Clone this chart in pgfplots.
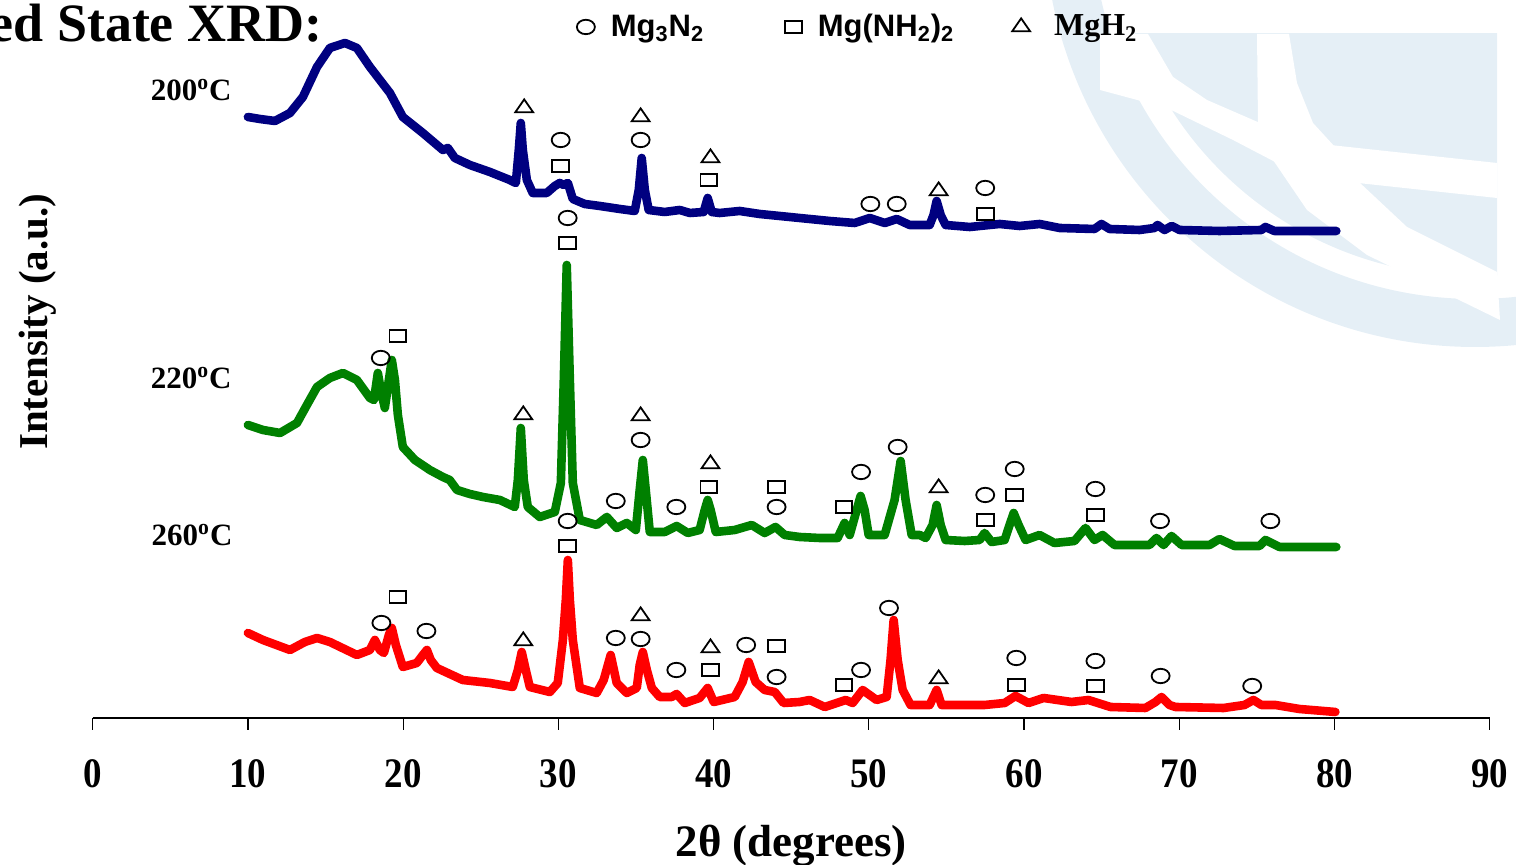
\documentclass[border=0pt]{standalone}
\usepackage{fontspec}
\setmainfont{Liberation Serif}
\newfontfamily\arialf{Liberation Sans}
\usepackage{pgfplots}
\pgfplotsset{compat=1.18}
\definecolor{navyc}{RGB}{0,0,128}
\definecolor{greenc}{RGB}{0,128,0}
\definecolor{redc}{RGB}{255,0,0}
\definecolor{wm}{RGB}{229,239,246}
\pgfplotsset{
  circ/.style={only marks, black, mark=o, mark size=3.6pt, mark options={line width=0.9pt, xscale=1.25}},
  sq/.style={only marks, black, mark=square, mark size=3.1pt, mark options={line width=0.9pt, xscale=1.35}},
  tri/.style={only marks, black, mark=triangle, mark size=4.3pt, mark options={line width=0.9pt, xscale=1.2}},
  xrd/.style={line width=4.3pt, line join=round, line cap=round},
}
\begin{document}
\begin{tikzpicture}
\path[use as bounding box] (0,0) rectangle (758pt,432.5pt);
% faint logo watermark, in pixel units of the picture (origin top left)
\begin{scope}[shift={(0,432.5pt)}, x=0.5pt, y=-0.5pt]
  \clip (0,0) rectangle (1516,865);
  \fill[wm, even odd rule] (1475,-84) circle[radius=431] (1475,-84) circle[radius=383];
  \begin{scope}
    \clip (1000,34) rectangle (1497,400);
    \fill[wm] (1475,-84) circle[radius=360];
  \end{scope}
  \fill[white] (1100,34) -- (1148,34) -- (1173,77) -- (1207,100) -- (1260,123) -- (1277,163) -- (1233,140) -- (1167,108) -- (1100,90) -- cycle;
  \fill[white] (1257,34) -- (1289,34) -- (1297,83) -- (1313,123) -- (1335,147) -- (1360,183) -- (1407,227) -- (1497,272) -- (1500,320) -- (1367,255) -- (1307,210) -- (1273,160) -- (1258,123) -- cycle;
  \fill[white] (1330,145) -- (1497,163) -- (1497,198) -- (1358,183) -- cycle;
\end{scope}
\begin{axis}[
  at={(46.35pt,73.5pt)}, anchor=south west,
  scale only axis, width=698.5pt, height=359pt,
  xmin=0, xmax=90, ymin=0, ymax=718,
  clip=false,
  axis x line=bottom, axis y line=none,
  x axis line style={-, line width=1pt},
  xtick={0,10,...,90},
  xtick align=outside,
  major tick length=6pt,
  xtick style={line width=0.6pt, black},
  /pgf/number format/assume math mode=true,
  xticklabel style={font=\bfseries\fontsize{21}{21}\selectfont, xscale=0.88, yshift=-11.5pt},
  xlabel={\bfseries 2θ (degrees)},
  xlabel style={font=\fontsize{22.5}{22.5}\selectfont, at={(axis description cs:0.5,-0.1936)}, anchor=base},
  legend image code/.code={\draw[#1] plot coordinates {(0pt,0pt)};},
  legend style={draw=none, fill=none, inner sep=0pt, at={(0.3463,0.9624)}, anchor=west,
    nodes={inner sep=0pt, anchor=west},
    /tikz/every odd column/.append style={column sep=8pt},
    /tikz/every even column/.append style={column sep=29pt}},
  legend columns=3,
]
\addlegendimage{circ}
\addlegendentry{\arialf\bfseries\fontsize{15.5}{15.5}\selectfont Mg\textsubscript{3}N\textsubscript{2}\rule{11.5pt}{0pt}}
\addlegendimage{sq}
\addlegendentry{\arialf\bfseries\fontsize{15.5}{15.5}\selectfont Mg(NH\textsubscript{2})\textsubscript{2}}
\addlegendimage{tri}
\addlegendentry{\hspace{4pt}\bfseries\fontsize{16}{16}\selectfont MgH\textsubscript{2}}

% 200 C
\addplot[xrd, navyc, forget plot] coordinates {
(10.0,601) (10.77,599) (11.74,597) (12.71,605) (13.54,621) (14.45,651) (15.28,670) (16.25,675)
(17.02,670) (17.86,651) (19.15,625) (19.98,601) (21.27,585) (22.56,568) (22.88,570) (23.33,560)
(24.30,553) (25.59,546) (26.87,538) (27.26,535) (27.45,568) (27.58,595) (27.71,568) (27.97,538)
(28.35,525) (29.25,525) (29.77,532) (30.09,535) (30.35,533) (30.61,535) (30.93,519) (31.70,514)
(32.67,512) (33.96,509) (34.92,507) (35.18,528) (35.37,560) (35.57,528) (35.82,508) (36.85,506)
(37.82,508) (38.47,505) (39.36,506) (39.62,520) (39.88,506) (40.39,505) (41.68,507) (42.97,504)
(44.26,502) (45.54,500) (47.48,497) (49.09,495) (50.06,500) (51.03,495) (51.80,499) (52.63,493)
(53.92,493) (54.17,503) (54.37,517) (54.63,503) (54.95,493) (56.50,491) (58.43,494) (59.72,492)
(61.01,494) (62.29,490) (64.54,489) (64.99,494) (65.51,489) (67.44,488) (68.41,490) (68.60,493)
(69.05,488) (69.51,492) (70.02,488) (72.59,487) (75.29,488) (75.55,491) (76.13,487) (77.74,487)
(80.12,487)};
% 220 C
\addplot[xrd, greenc, forget plot] coordinates {
(10.0,293) (10.97,288) (12.07,285) (13.16,295) (13.8,313) (14.45,331) (15.28,340) (16.12,345)
(17.02,338) (17.86,320) (18.12,318) (18.37,345) (18.56,328) (18.82,310) (19.08,338) (19.27,358)
(19.47,338) (19.66,303) (19.98,271) (20.76,258) (21.72,248) (22.56,241) (23.0,238) (23.47,228)
(24.30,224) (25.14,221) (26.23,218) (27.19,211) (27.39,238) (27.58,290) (27.77,238) (28.03,211)
(28.80,201) (29.77,206) (30.16,235) (30.35,338) (30.54,453) (30.74,338) (30.93,235) (31.38,198)
(32.47,193) (33.12,201) (33.76,190) (34.41,195) (34.99,188) (35.24,228) (35.44,258) (35.63,228)
(35.89,186) (36.85,186) (37.62,192) (38.34,185) (39.10,188) (39.43,208) (39.62,218) (39.81,208)
(40.14,186) (41.36,188) (42.46,193) (43.29,185) (43.99,191) (44.58,183) (45.55,181) (46.83,180)
(47.99,180) (48.44,195) (48.77,183) (49.22,208) (49.47,222) (49.73,208) (49.99,183) (51.02,183)
(51.66,218) (52.05,257) (52.37,218) (52.76,183) (53.28,183) (53.66,180) (54.11,193) (54.37,213)
(54.63,193) (54.95,178) (56.17,177) (57.14,178) (57.46,185) (57.91,176) (58.75,178) (59.07,193)
(59.33,205) (59.65,193) (60.10,178) (61.0,183) (61.96,175) (63.25,177) (63.96,190) (64.54,178)
(65.06,183) (65.83,173) (68.08,173) (68.53,180) (68.99,173) (69.50,182) (70.15,173) (71.95,173)
(72.59,179) (73.56,172) (75.17,172) (75.55,178) (76.46,171) (80.12,171)};
% 260 C
\addplot[xrd, redc, forget plot] coordinates {
(10.0,85) (10.97,78) (12.71,68) (13.67,76) (14.45,80) (15.28,76) (17.02,63) (17.86,68)
(18.18,78) (18.50,68) (18.76,65) (19.08,83) (19.27,90) (19.53,73) (19.98,51) (20.88,55)
(21.27,63) (21.53,68) (21.78,58) (22.17,50) (23.84,38) (25.59,35) (27.06,31) (27.39,48)
(27.64,66) (27.9,48) (28.16,31) (29.45,26) (29.96,35) (30.29,78) (30.48,118) (30.61,158)
(30.74,118) (30.93,78) (31.38,30) (32.47,25) (32.92,38) (33.37,63) (33.76,35) (34.41,25)
(35.05,30) (35.24,53) (35.44,66) (35.70,48) (36.02,30) (36.53,21) (37.30,21) (37.62,24)
(38.14,15) (39.10,20) (39.62,30) (40.01,16) (41.36,21) (41.87,36) (42.26,56) (42.71,36)
(43.29,28) (43.94,26) (44.51,15) (45.54,16) (46.19,18) (47.16,11) (48.51,18) (48.96,15)
(49.60,28) (50.5,18) (51.15,21) (51.40,58) (51.60,98) (51.86,58) (52.18,28) (52.69,13)
(53.92,13) (54.37,28) (54.69,13) (57.46,13) (58.75,15) (59.45,22) (60.29,15) (61.26,20)
(63.06,16) (64.15,18) (65.57,11) (67.82,10) (68.47,16) (68.86,21) (69.37,13) (69.76,11)
(72.85,10) (74.2,13) (74.78,18) (75.29,13) (76.20,13) (77.74,9) (80.06,6)};

% phase markers, 200 C
\addplot[tri, forget plot] coordinates {(27.8,610) (35.3,601) (39.8,560) (54.5,527)};
\addplot[circ, forget plot] coordinates {(30.15,578) (35.3,578) (50.1,514) (51.8,514) (57.5,530)};
\addplot[sq, forget plot] coordinates {(30.15,552) (39.7,538) (57.5,504)};
% phase markers, 220 C
\addplot[sq, forget plot] coordinates {(19.66,382) (30.6,475) (39.7,231) (44.06,231) (48.4,211) (57.5,198) (59.4,223) (64.6,203)};
\addplot[circ, forget plot] coordinates {(18.56,360) (30.6,500) (35.3,278) (33.7,217) (37.6,211) (44.06,211) (49.5,246) (51.86,271) (57.5,223) (59.4,249) (64.6,229) (68.76,197) (75.87,197)};
\addplot[tri, forget plot] coordinates {(27.74,303) (35.3,302) (39.8,254) (54.5,230)};
% phase markers, 260 C
\addplot[sq, forget plot] coordinates {(19.66,121) (30.6,172) (39.8,48) (44.06,72) (48.4,33) (59.5,33) (64.6,32)};
\addplot[circ, forget plot] coordinates {(18.6,95) (21.5,87) (30.6,197) (33.7,80) (35.3,79) (37.6,48) (42.1,73) (44.06,41) (49.5,48) (51.3,110) (59.5,60) (64.6,57) (68.8,42) (74.7,32)};
\addplot[tri, forget plot] coordinates {(27.74,77) (35.3,102) (39.8,70) (54.5,39)};

\node[anchor=east, inner sep=0pt, font=\bfseries\fontsize{15.5}{15.5}\selectfont] at (axis cs:8.97,628) {200\textsuperscript{o}C};
\node[anchor=east, inner sep=0pt, font=\bfseries\fontsize{15.5}{15.5}\selectfont] at (axis cs:8.97,340) {220\textsuperscript{o}C};
\node[anchor=east, inner sep=0pt, font=\bfseries\fontsize{15.5}{15.5}\selectfont] at (axis cs:9.03,183) {260\textsuperscript{o}C};
\node[anchor=base east, inner sep=0pt, font=\bfseries\fontsize{27}{27}\selectfont] at (axis cs:14.83,676) {ed State XRD:};
\node[rotate=90, anchor=base, inner sep=0pt, font=\bfseries\fontsize{20.5}{20.5}\selectfont] at (rel axis cs:-0.032,0.552) {Intensity (a.u.)};
\end{axis}
\end{tikzpicture}
\end{document}
